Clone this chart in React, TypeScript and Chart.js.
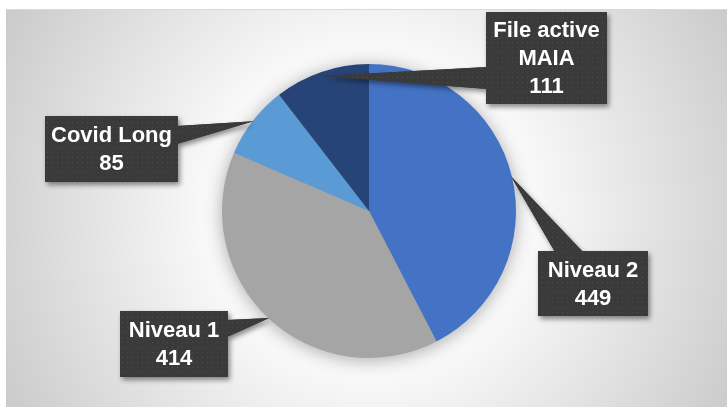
import React, { useEffect, useRef } from "react";
import { Chart, registerables } from "chart.js";

Chart.register(...registerables);

const categories = ["Niveau 2", "Niveau 1", "Covid Long", "File active MAIA"];
const labelLines = [["Niveau 2"], ["Niveau 1"], ["Covid Long"], ["File active", "MAIA"]];
const values = [449, 414, 85, 111];
const colors = ["#4472C4", "#A5A5A5", "#5B9BD5", "#264478"];

// callout box layout (label placement only)
const callouts = [
  { x: 538, y: 251, w: 110, h: 65, side: "top", b1: 555, b2: 583 },
  { x: 120, y: 311, w: 108, h: 66, side: "right", b1: 320, b2: 337 },
  { x: 45, y: 116, w: 133, h: 66, side: "right", b1: 126, b2: 144 },
  { x: 486, y: 12, w: 121, h: 92, side: "left", b1: 67, b2: 89 },
];

function makePattern(ctx: CanvasRenderingContext2D) {
  const c = document.createElement("canvas");
  c.width = 5;
  c.height = 5;
  const p = c.getContext("2d")!;
  p.fillStyle = "#3a3a3a";
  p.fillRect(0, 0, 5, 5);
  p.fillStyle = "#4c4c4c";
  p.fillRect(2, 2, 1, 1);
  return ctx.createPattern(c, "repeat")!;
}

const bgPlugin = {
  id: "bgPlugin",
  beforeDraw(chart: any) {
    const ctx = chart.ctx as CanvasRenderingContext2D;
    const W = chart.width, H = chart.height;
    ctx.save();
    ctx.fillStyle = "#ffffff";
    ctx.fillRect(0, 0, W, H);
    const g = ctx.createRadialGradient(369, 211, 0, 369, 211, 420);
    g.addColorStop(0, "#ffffff");
    g.addColorStop(0.4, "#f8f8f8");
    g.addColorStop(1, "#c9c9c9");
    ctx.fillStyle = g;
    ctx.fillRect(6, 10, W - 6, H - 10);
    ctx.strokeStyle = "#d9d9d9";
    ctx.lineWidth = 1;
    ctx.beginPath();
    ctx.moveTo(6, 9.5);
    ctx.lineTo(W, 9.5);
    ctx.stroke();
    ctx.restore();
  },
  beforeDatasetsDraw(chart: any) {
    const arc = chart.getDatasetMeta(0).data[0];
    if (!arc) return;
    const { x, y, outerRadius } = arc.getProps(["x", "y", "outerRadius"], true);
    const ctx = chart.ctx as CanvasRenderingContext2D;
    ctx.save();
    ctx.shadowColor = "rgba(0,0,0,0.35)";
    ctx.shadowBlur = 18;
    ctx.shadowOffsetX = 0;
    ctx.shadowOffsetY = 2;
    ctx.fillStyle = "#999";
    ctx.beginPath();
    ctx.arc(x, y, outerRadius - 1, 0, Math.PI * 2);
    ctx.fill();
    ctx.restore();
  },
};

const calloutPlugin = {
  id: "calloutPlugin",
  afterDatasetsDraw(chart: any) {
    const ctx = chart.ctx as CanvasRenderingContext2D;
    const meta = chart.getDatasetMeta(0);
    const pattern = makePattern(ctx);
    meta.data.forEach((arc: any, i: number) => {
      const c = callouts[i];
      const { x, y, startAngle, endAngle, outerRadius } = arc.getProps(
        ["x", "y", "startAngle", "endAngle", "outerRadius"],
        true
      );
      const mid = (startAngle + endAngle) / 2;
      const f = i === 3 ? 0.97 : 0.995;
      const tx = x + Math.cos(mid) * outerRadius * f;
      const ty = y + Math.sin(mid) * outerRadius * f;
      const path = new Path2D();
      path.rect(c.x, c.y, c.w, c.h);
      const wedge = new Path2D();
      if (c.side === "top") {
        wedge.moveTo(c.b1, c.y + 1);
        wedge.lineTo(tx, ty);
        wedge.lineTo(c.b2, c.y + 1);
      } else if (c.side === "right") {
        wedge.moveTo(c.x + c.w - 1, c.b1);
        wedge.lineTo(tx, ty);
        wedge.lineTo(c.x + c.w - 1, c.b2);
      } else {
        wedge.moveTo(c.x + 1, c.b1);
        wedge.lineTo(tx, ty);
        wedge.lineTo(c.x + 1, c.b2);
      }
      wedge.closePath();
      ctx.save();
      ctx.shadowColor = "rgba(0,0,0,0.45)";
      ctx.shadowBlur = 5;
      ctx.shadowOffsetX = 2;
      ctx.shadowOffsetY = 3;
      ctx.fillStyle = "#3a3a3a";
      ctx.fill(path);
      ctx.fill(wedge);
      ctx.restore();
      ctx.save();
      ctx.fillStyle = pattern;
      ctx.fill(path);
      ctx.fill(wedge);
      ctx.restore();

      const lines = [...labelLines[i], String(values[i])];
      const lh = 28;
      const cx = c.x + c.w / 2;
      const cy = c.y + c.h / 2;
      const top = cy - ((lines.length - 1) * lh) / 2;
      ctx.save();
      ctx.fillStyle = "#ffffff";
      ctx.font = "bold 22px 'Liberation Sans', Arial, sans-serif";
      ctx.textAlign = "center";
      ctx.textBaseline = "middle";
      lines.forEach((ln, k) => ctx.fillText(ln, cx, top + k * lh + 1));
      ctx.restore();
    });
  },
};

export default function App() {
  const ref = useRef<HTMLCanvasElement>(null);
  useEffect(() => {
    document.body.style.margin = "0";
    const chart = new Chart(ref.current!, {
      type: "pie",
      data: {
        labels: categories,
        datasets: [
          {
            data: values,
            backgroundColor: colors,
            borderWidth: 0,
          },
        ],
      },
      options: {
        responsive: false,
        animation: false,
        layout: { padding: { left: 222, right: 211, top: 64, bottom: 49 } },
        plugins: {
          legend: { display: false },
          tooltip: { enabled: false },
          title: { display: false },
        },
      },
      plugins: [bgPlugin, calloutPlugin],
    });
    return () => chart.destroy();
  }, []);
  return (
    <div style={{ width: 727, height: 407, overflow: "hidden" }}>
      <canvas ref={ref} width={727} height={407} style={{ display: "block" }} />
    </div>
  );
}
